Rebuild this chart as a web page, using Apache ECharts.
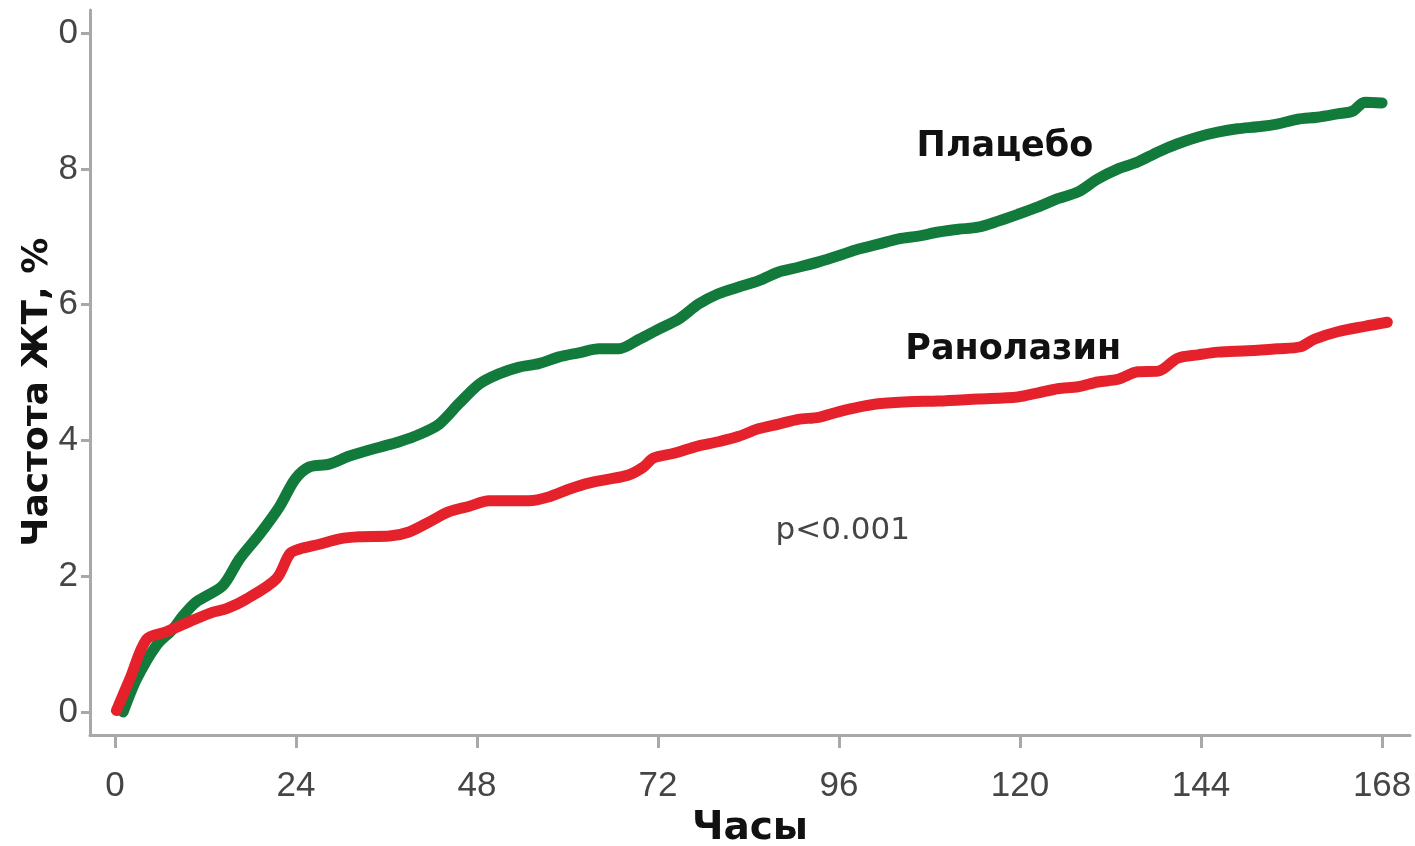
<!DOCTYPE html>
<html>
<head>
<meta charset="utf-8">
<script src="https://cdn.jsdelivr.net/npm/echarts@6/dist/echarts.min.js"></script>
<style>
  html, body { margin: 0; padding: 0; background: #fff; }
  #chart { width: 1415px; height: 846px; }
</style>
</head>
<body>
<div id="chart"></div>
<script>
// Cumulative VT incidence (%) over the first week, by hour
const placeboHours = [1.1, 2.9, 5.5, 7.7, 9.0, 10.8, 14.3, 16.5, 19.2, 21.8, 23.9, 25.8, 28.4, 31.1, 35.1, 37.7, 40.4, 43.0, 45.6, 48.3, 50.9, 53.6, 56.2, 58.9, 61.5, 64.2, 66.8, 69.5, 72.1, 74.8, 77.4, 80.0, 82.7, 85.3, 88.0, 90.6, 93.3, 95.9, 98.6, 101.2, 103.9, 106.5, 109.2, 111.8, 114.4, 117.1, 119.7, 122.4, 125.0, 127.7, 130.3, 133.0, 135.6, 138.3, 140.9, 143.6, 146.2, 148.8, 151.5, 154.1, 156.8, 159.4, 162.1, 164.1, 165.7, 168.0];
const placeboValues = [0.0, 0.49, 0.98, 1.22, 1.41, 1.62, 1.86, 2.25, 2.62, 3.02, 3.43, 3.61, 3.65, 3.77, 3.90, 3.98, 4.09, 4.24, 4.54, 4.83, 4.98, 5.08, 5.13, 5.23, 5.29, 5.35, 5.35, 5.49, 5.64, 5.79, 6.01, 6.16, 6.26, 6.35, 6.48, 6.55, 6.63, 6.72, 6.82, 6.89, 6.97, 7.01, 7.07, 7.11, 7.14, 7.23, 7.33, 7.44, 7.56, 7.66, 7.85, 8.00, 8.10, 8.25, 8.37, 8.47, 8.54, 8.59, 8.62, 8.66, 8.73, 8.76, 8.81, 8.85, 8.98, 8.97];

const ranolazineHours = [0.2, 2.0, 4.2, 6.8, 9.9, 13.0, 14.8, 17.4, 21.4, 23.2, 24.5, 27.1, 29.8, 32.4, 36.4, 39.0, 41.7, 44.3, 47.0, 49.6, 52.3, 54.9, 57.6, 60.2, 62.8, 65.5, 68.1, 70.1, 71.4, 74.1, 77.4, 80.0, 82.7, 85.3, 88.0, 90.6, 93.3, 95.9, 98.6, 101.2, 105.2, 109.2, 114.4, 119.7, 122.4, 125.0, 127.7, 130.3, 133.0, 135.6, 138.3, 140.9, 143.6, 146.2, 150.2, 154.1, 157.2, 159.0, 162.1, 165.7, 168.7];
const ranolazineValues = [0.02, 0.49, 1.07, 1.18, 1.33, 1.47, 1.52, 1.66, 1.96, 2.33, 2.40, 2.47, 2.55, 2.58, 2.59, 2.65, 2.80, 2.95, 3.03, 3.11, 3.11, 3.11, 3.17, 3.28, 3.37, 3.43, 3.49, 3.61, 3.74, 3.81, 3.92, 3.98, 4.06, 4.17, 4.24, 4.31, 4.34, 4.42, 4.49, 4.54, 4.57, 4.58, 4.61, 4.64, 4.70, 4.76, 4.79, 4.86, 4.90, 5.01, 5.02, 5.21, 5.26, 5.30, 5.32, 5.35, 5.38, 5.49, 5.60, 5.68, 5.74];

const xTicks = [0, 24, 48, 72, 96, 120, 144, 168];
const yTicks = [0, 2, 4, 6, 8, 10];
const yTickLabels = ['0', '2', '4', '6', '8', '0'];

const seriesNames = ['Плацебо', 'Ранолазин'];
const xAxisName = 'Часы';
const yAxisName = 'Частота ЖТ, %';
const pValueText = 'p<0.001';

function pairs(xs, ys) { return xs.map((x, i) => [x, ys[i]]); }

const FONT = '"Liberation Sans", Arial, sans-serif';
const WIDE_FONT = '"DejaVu Sans", "Liberation Sans", sans-serif';
const AXIS_GRAY = '#a8a8a8';
const LABEL_GRAY = '#454545';

const chart = echarts.init(document.getElementById('chart'), null, { renderer: 'canvas' });

chart.setOption({
  backgroundColor: '#ffffff',
  animation: false,
  grid: { left: 90, right: 5, top: 10, bottom: 111, containLabel: false, outerBoundsMode: 'none' },
  xAxis: {
    type: 'value',
    min: -3.3,
    max: 171.7,
    name: xAxisName,
    nameLocation: 'middle',
    nameGap: 72,
    nameTextStyle: { fontFamily: WIDE_FONT, fontSize: 39, fontWeight: 'bold', color: '#111' },
    axisLine: { show: true, onZero: false, lineStyle: { color: AXIS_GRAY, width: 3 } },
    axisTick: { show: true, customValues: xTicks, length: 13, inside: false, lineStyle: { color: AXIS_GRAY, width: 3 } },
    axisLabel: {
      customValues: xTicks,
      margin: 34,
      fontFamily: FONT, fontSize: 35, color: LABEL_GRAY
    },
    splitLine: { show: false }
  },
  yAxis: {
    type: 'value',
    min: -0.34,
    max: 10.34,
    axisLine: { show: true, onZero: false, lineStyle: { color: AXIS_GRAY, width: 3 } },
    axisTick: { show: true, customValues: yTicks, length: 9, inside: false, lineStyle: { color: AXIS_GRAY, width: 3 } },
    axisLabel: {
      customValues: yTicks,
      margin: 12,
      fontFamily: FONT, fontSize: 35, color: LABEL_GRAY,
      formatter: function (v) {
        const i = yTicks.indexOf(v);
        return i >= 0 ? yTickLabels[i] : '';
      }
    },
    splitLine: { show: false }
  },
  series: [
    {
      name: seriesNames[0],
      type: 'line',
      data: pairs(placeboHours, placeboValues),
      showSymbol: false,
      smooth: 0.3,
      z: 2,
      lineStyle: { color: '#127a3b', width: 11, cap: 'round', join: 'round' }
    },
    {
      name: seriesNames[1],
      type: 'line',
      data: pairs(ranolazineHours, ranolazineValues),
      showSymbol: false,
      smooth: 0.3,
      z: 3,
      lineStyle: { color: '#e5222b', width: 11, cap: 'round', join: 'round' }
    }
  ]
});

// Series names, significance note and the vertical axis title
function place(h, v) { return chart.convertToPixel({ gridIndex: 0 }, [h, v]); }
const pPlacebo = place(118, 8.33);
const pRanolazine = place(119.1, 5.34);
const pSig = place(96.5, 2.66);
const yMid = place(0, 4.71);

chart.setOption({
  graphic: [
    { type: 'text', x: pPlacebo[0], y: pPlacebo[1], style: { text: seriesNames[0], font: 'bold 35px ' + WIDE_FONT, fill: '#111', align: 'center', verticalAlign: 'middle' } },
    { type: 'text', x: pRanolazine[0], y: pRanolazine[1], style: { text: seriesNames[1], font: 'bold 35px ' + WIDE_FONT, fill: '#111', align: 'center', verticalAlign: 'middle' } },
    { type: 'text', x: pSig[0], y: pSig[1], style: { text: pValueText, font: '31px ' + WIDE_FONT, fill: LABEL_GRAY, align: 'center', verticalAlign: 'middle' } },
    { type: 'text', x: 38, y: yMid[1], rotation: Math.PI / 2, style: { text: yAxisName, font: 'bold 36px ' + WIDE_FONT, fill: '#111', align: 'center', verticalAlign: 'middle' } }
  ]
});
</script>
</body>
</html>
